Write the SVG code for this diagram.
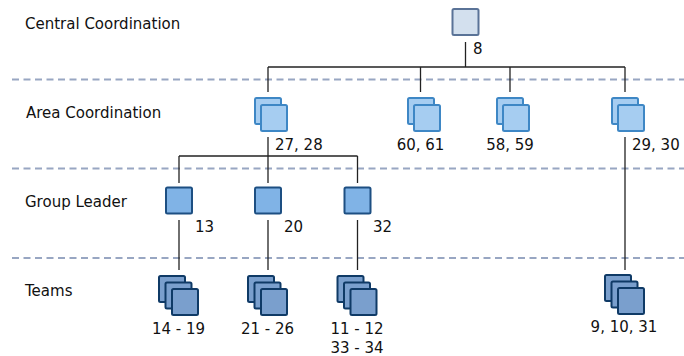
<svg xmlns="http://www.w3.org/2000/svg" width="684" height="356" viewBox="0 0 684 356">
  <defs>
    <style>
      text { font-family: "DejaVu Sans", "Liberation Sans", sans-serif; font-size: 15px; fill: #111; }
      .sep { stroke: #98a6c2; stroke-width: 2; stroke-dasharray: 7 4.5; fill: none; }
      .link { stroke: #222; stroke-width: 1.3; fill: none; }
      .central { fill: #d3e0ee; stroke: #5a7397; stroke-width: 2; }
      .area { fill: #a6cdf1; stroke: #3e87c5; stroke-width: 2; }
      .group { fill: #80b3e6; stroke: #1d4f82; stroke-width: 2; }
      .team { fill: #7a9fcd; stroke: #0f3a66; stroke-width: 2; }
      .mid { text-anchor: middle; }
    </style>
  </defs>
  <rect width="684" height="356" fill="#fff"/>

  <!-- level separators -->
  <g id="separators">
    <line class="sep" x1="12" y1="79.5" x2="684" y2="79.5"/>
    <line class="sep" x1="12" y1="168.5" x2="684" y2="168.5"/>
    <line class="sep" x1="12" y1="258" x2="684" y2="258"/>
  </g>

  <!-- level labels -->
  <g id="levels">
    <text x="25" y="29">Central Coordination</text>
    <text x="26" y="118">Area Coordination</text>
    <text x="25" y="207">Group Leader</text>
    <text x="25" y="296">Teams</text>
  </g>

  <!-- connectors -->
  <g id="connectors">
    <line class="link" x1="465.5" y1="42" x2="465.5" y2="67"/>
    <line class="link" x1="268" y1="67" x2="625" y2="67"/>
    <line class="link" x1="268" y1="67" x2="268" y2="92"/>
    <line class="link" x1="420.5" y1="67" x2="420.5" y2="92"/>
    <line class="link" x1="510" y1="67" x2="510" y2="92"/>
    <line class="link" x1="625" y1="67" x2="625" y2="92"/>

    <line class="link" x1="268" y1="137" x2="268" y2="156"/>
    <line class="link" x1="179" y1="156" x2="357.5" y2="156"/>
    <line class="link" x1="179" y1="156" x2="179" y2="183"/>
    <line class="link" x1="268" y1="156" x2="268" y2="183"/>
    <line class="link" x1="357.5" y1="156" x2="357.5" y2="183"/>

    <line class="link" x1="179" y1="220" x2="179" y2="270"/>
    <line class="link" x1="268" y1="220" x2="268" y2="270"/>
    <line class="link" x1="357.5" y1="220" x2="357.5" y2="270"/>
    <line class="link" x1="625" y1="137" x2="625" y2="270"/>
  </g>

  <!-- central coordination -->
  <g id="node-8">
    <rect class="central" x="452.5" y="9" width="26" height="26" rx="1.5"/>
    <text x="473" y="54">8</text>
  </g>

  <!-- area coordination -->
  <g id="node-27-28">
    <rect class="area" x="255" y="98" width="26" height="26" rx="1.5"/>
    <rect class="area" x="261" y="105" width="26" height="26" rx="1.5"/>
    <text x="275" y="149.5">27, 28</text>
  </g>
  <g id="node-60-61">
    <rect class="area" x="408" y="98" width="26" height="26" rx="1.5"/>
    <rect class="area" x="414" y="105" width="26" height="26" rx="1.5"/>
    <text class="mid" x="420.5" y="149.5">60, 61</text>
  </g>
  <g id="node-58-59">
    <rect class="area" x="497" y="98" width="26" height="26" rx="1.5"/>
    <rect class="area" x="503" y="105" width="26" height="26" rx="1.5"/>
    <text class="mid" x="510" y="149.5">58, 59</text>
  </g>
  <g id="node-29-30">
    <rect class="area" x="612" y="98" width="26" height="26" rx="1.5"/>
    <rect class="area" x="618" y="105" width="26" height="26" rx="1.5"/>
    <text x="632" y="149.5">29, 30</text>
  </g>

  <!-- group leaders -->
  <g id="node-13">
    <rect class="group" x="166" y="187.5" width="26" height="26" rx="1.5"/>
    <text x="195" y="232">13</text>
  </g>
  <g id="node-20">
    <rect class="group" x="255" y="187.5" width="26" height="26" rx="1.5"/>
    <text x="284" y="232">20</text>
  </g>
  <g id="node-32">
    <rect class="group" x="344.5" y="187.5" width="26" height="26" rx="1.5"/>
    <text x="373" y="232">32</text>
  </g>

  <!-- teams -->
  <g id="team-14-19">
    <rect class="team" x="159" y="276" width="26" height="26" rx="1.5"/>
    <rect class="team" x="165.5" y="282.5" width="26" height="26" rx="1.5"/>
    <rect class="team" x="172" y="289" width="26" height="26" rx="1.5"/>
    <text class="mid" x="178.5" y="333.5">14 - 19</text>
  </g>
  <g id="team-21-26">
    <rect class="team" x="248" y="276" width="26" height="26" rx="1.5"/>
    <rect class="team" x="254.5" y="282.5" width="26" height="26" rx="1.5"/>
    <rect class="team" x="261" y="289" width="26" height="26" rx="1.5"/>
    <text class="mid" x="267.5" y="333.5">21 - 26</text>
  </g>
  <g id="team-11-34">
    <rect class="team" x="337.5" y="276" width="26" height="26" rx="1.5"/>
    <rect class="team" x="344" y="282.5" width="26" height="26" rx="1.5"/>
    <rect class="team" x="350.5" y="289" width="26" height="26" rx="1.5"/>
    <text class="mid" x="357" y="333.5">11 - 12</text>
    <text class="mid" x="357" y="353">33 - 34</text>
  </g>
  <g id="team-9-10-31">
    <rect class="team" x="605" y="275" width="26" height="26" rx="1.5"/>
    <rect class="team" x="611.5" y="281.5" width="26" height="26" rx="1.5"/>
    <rect class="team" x="618" y="288" width="26" height="26" rx="1.5"/>
    <text class="mid" x="624" y="332">9, 10, 31</text>
  </g>
</svg>
